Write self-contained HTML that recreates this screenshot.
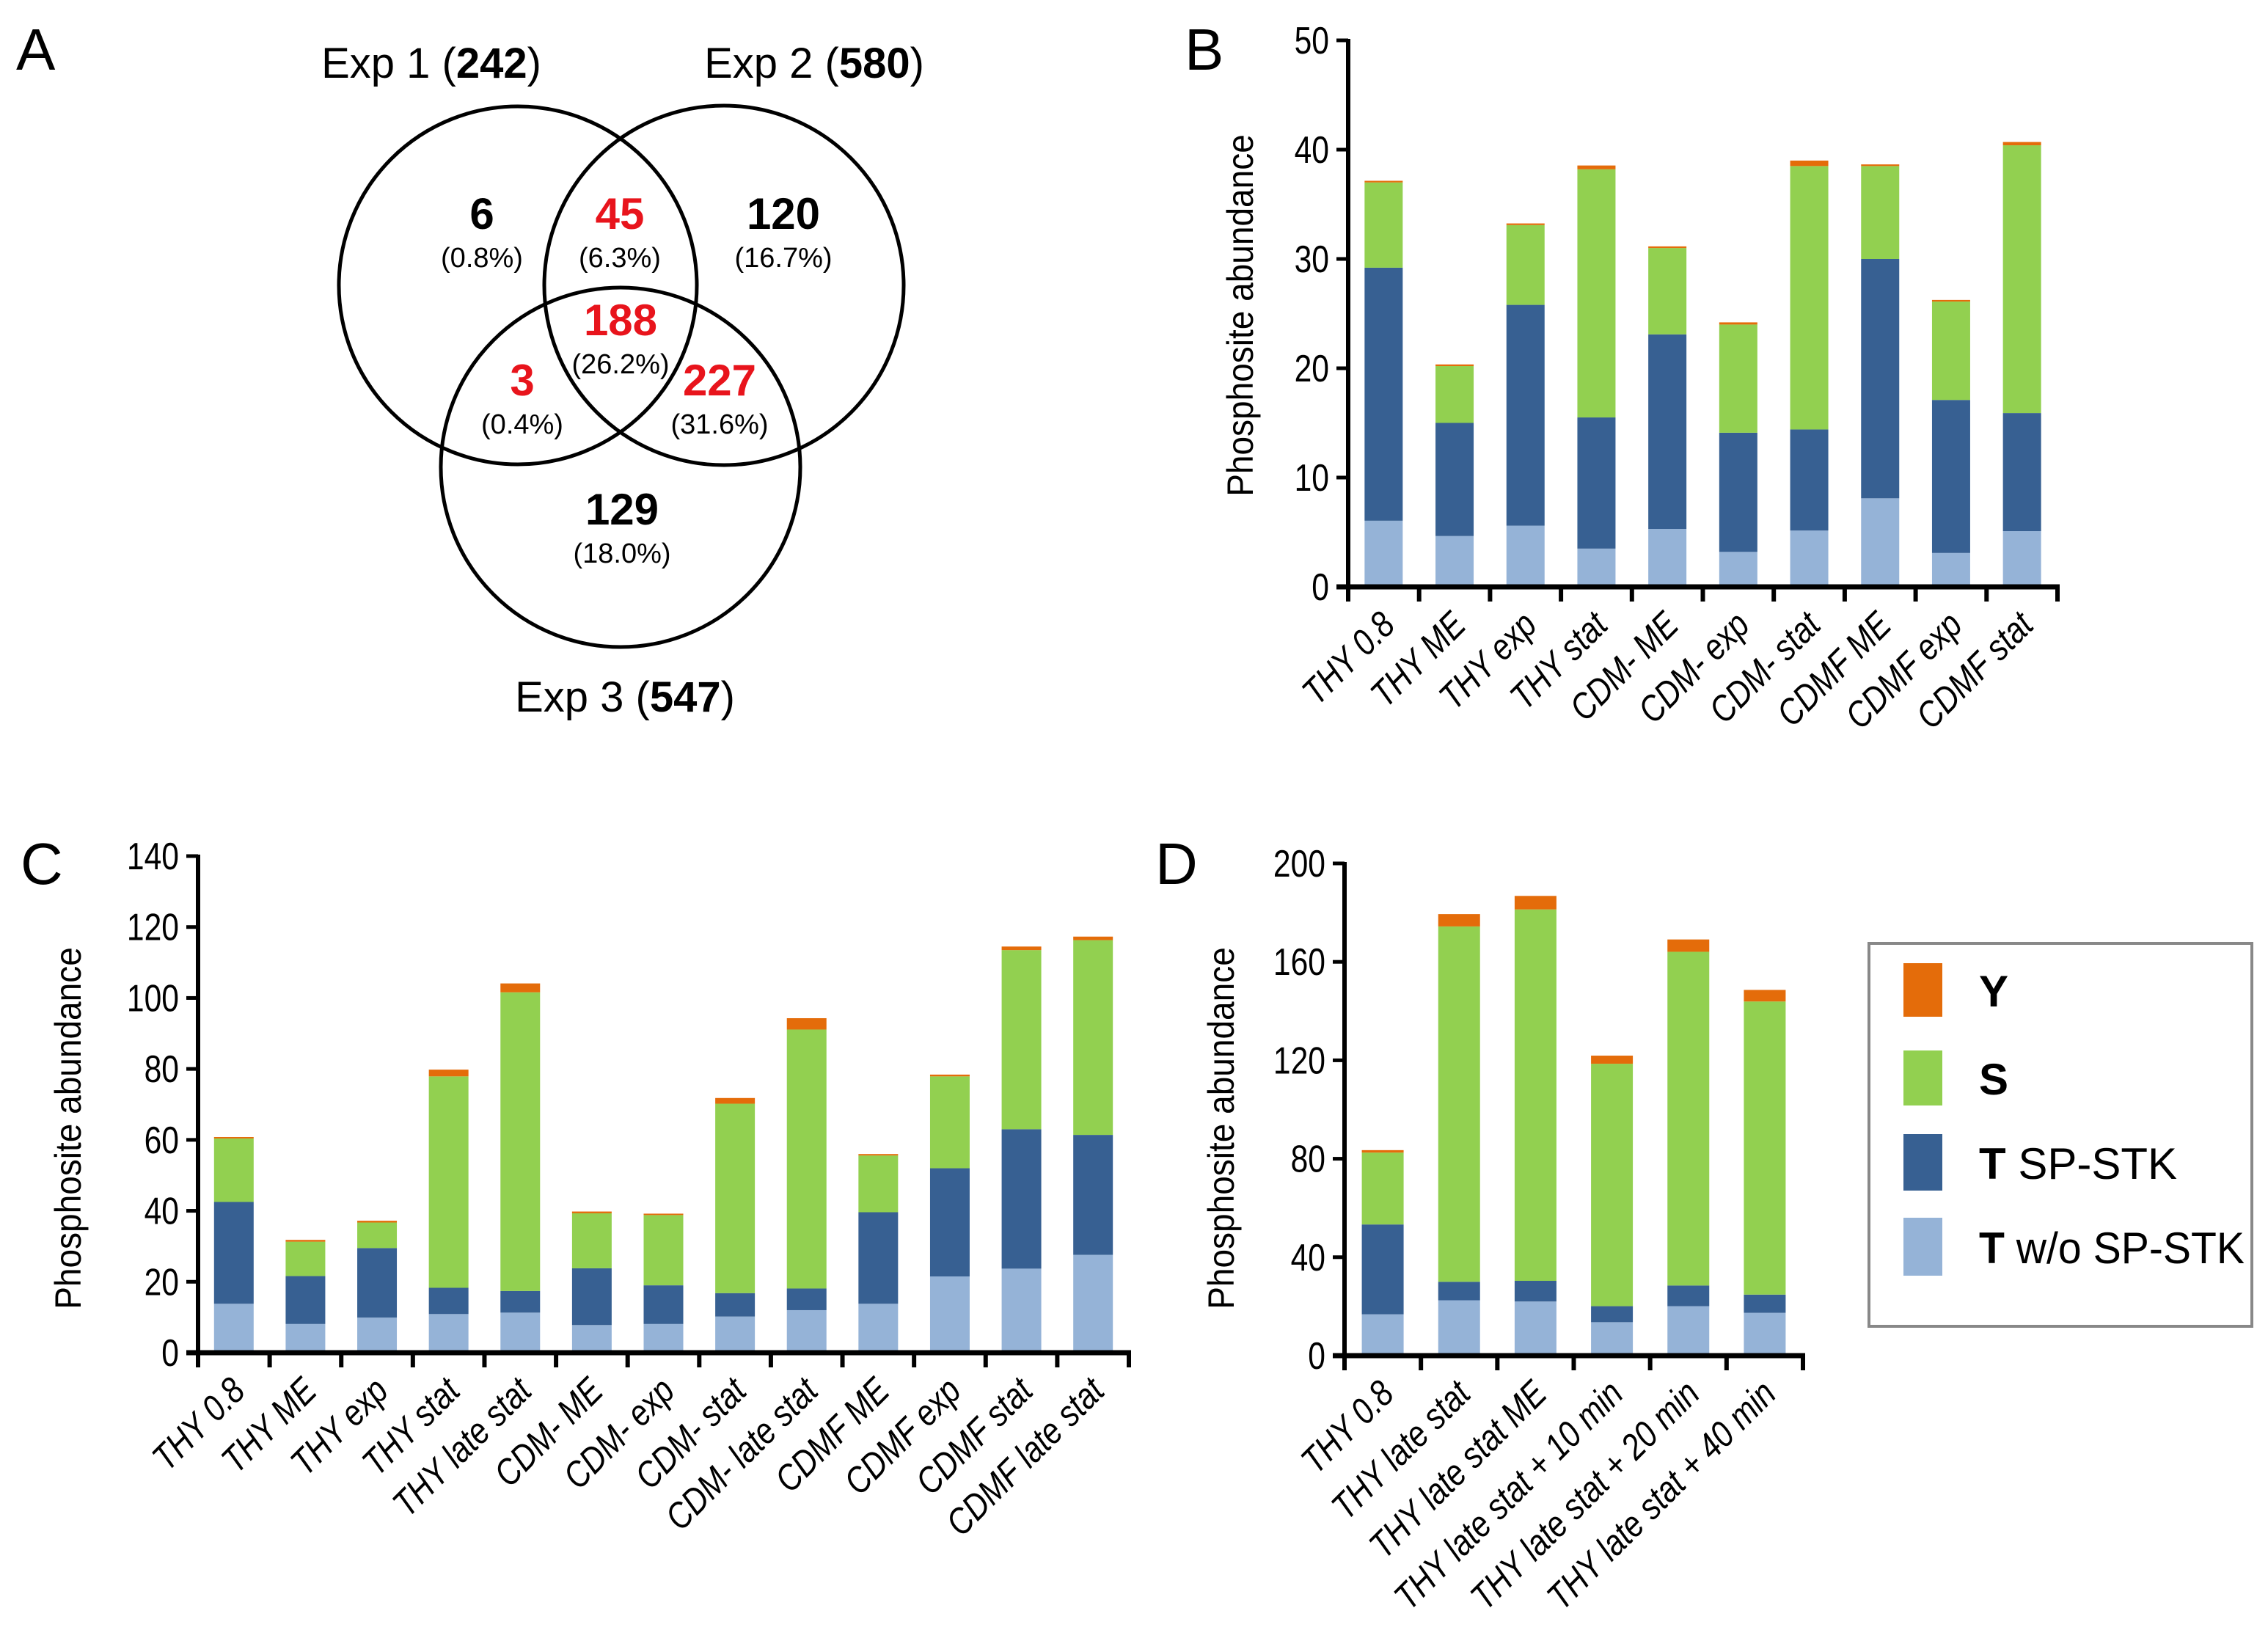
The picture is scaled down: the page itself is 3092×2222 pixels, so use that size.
<!DOCTYPE html>
<html><head><meta charset="utf-8">
<style>
html,body{margin:0;padding:0;background:#fff;}
svg{display:block;font-family:"Liberation Sans Narrow","Liberation Sans",sans-serif;}
</style></head>
<body>
<svg id="fig" width="3092" height="2222" viewBox="0 0 3092 2222" xmlns="http://www.w3.org/2000/svg">
<rect width="3092" height="2222" fill="#fff"/>
<g font-size="80" font-family="Liberation Sans, sans-serif">
<text x="22" y="95">A</text>
<text x="1615" y="95">B</text>
<text x="28" y="1205">C</text>
<text x="1575" y="1205">D</text>
</g>
<g id="venn">
<circle cx="706" cy="389" r="244" fill="none" stroke="#000" stroke-width="5"/>
<circle cx="987" cy="389" r="245" fill="none" stroke="#000" stroke-width="5"/>
<circle cx="846" cy="637" r="245" fill="none" stroke="#000" stroke-width="5"/>
<g font-size="58" text-anchor="middle">
<text x="588" y="106">Exp 1 (<tspan font-weight="bold">242</tspan>)</text>
<text x="1110" y="106">Exp 2 (<tspan font-weight="bold">580</tspan>)</text>
<text x="852" y="970">Exp 3 (<tspan font-weight="bold">547</tspan>)</text>
</g>
<g font-size="60" font-weight="bold" text-anchor="middle">
<text x="657" y="312">6</text>
<text x="845" y="312" fill="#e8141c">45</text>
<text x="1068" y="312">120</text>
<text x="846" y="457" fill="#e8141c">188</text>
<text x="712" y="539" fill="#e8141c">3</text>
<text x="981" y="539" fill="#e8141c">227</text>
<text x="848" y="715">129</text>
</g>
<g font-size="38" text-anchor="middle">
<text x="657" y="364">(0.8%)</text>
<text x="845" y="364">(6.3%)</text>
<text x="1068" y="364">(16.7%)</text>
<text x="846" y="509">(26.2%)</text>
<text x="712" y="591">(0.4%)</text>
<text x="981" y="591">(31.6%)</text>
<text x="848" y="767">(18.0%)</text>
</g>
</g>
<g id="legend">
<rect x="2548" y="1286" width="522" height="522" fill="#fff" stroke="#888" stroke-width="4"/>
<rect x="2595" y="1313" width="53" height="73" fill="#E46C0A"/>
<rect x="2595" y="1432" width="53" height="75" fill="#92D050"/>
<rect x="2595" y="1546" width="53" height="77" fill="#376092"/>
<rect x="2595" y="1660" width="53" height="79" fill="#95B3D7"/>
<g font-size="60">
<text x="2698" y="1372" font-weight="bold">Y</text>
<text x="2698" y="1492" font-weight="bold">S</text>
<text x="2698" y="1607"><tspan font-weight="bold">T</tspan> SP-STK</text>
<text x="2698" y="1722" textLength="362" lengthAdjust="spacingAndGlyphs"><tspan font-weight="bold">T</tspan> w/o SP-STK</text>
</g>
</g>
</svg>
<script>
// Panel B data (stack segments)
const catsB = ["THY 0.8","THY ME","THY exp","THY stat","CDM- ME","CDM- exp","CDM- stat","CDMF ME","CDMF exp","CDMF stat"];
const tLightB = [6.05,4.65,5.6,3.5,5.3,3.2,5.15,8.1,3.1,5.1];
const tDarkB  = [23.15,10.35,20.2,12.0,17.8,10.9,9.25,21.9,14.0,10.8];
const sB      = [7.8,5.2,7.3,22.7,7.9,9.9,24.1,8.5,9.0,24.5];
const yB      = [0.15,0.15,0.15,0.35,0.15,0.2,0.5,0.15,0.15,0.3];
const ticksB  = [0,10,20,30,40,50];
// Panel C data
const catsC = ["THY 0.8","THY ME","THY exp","THY stat","THY late stat","CDM- ME","CDM- exp","CDM- stat","CDM- late stat","CDMF ME","CDMF exp","CDMF stat","CDMF late stat"];
const tLightC = [13.8,8.1,9.9,10.9,11.3,7.8,8.1,10.2,12.0,13.8,21.5,23.7,27.6];
const tDarkC  = [28.7,13.5,19.6,7.4,6.1,16.0,10.9,6.6,6.1,25.8,30.5,39.3,33.8];
const sC      = [17.9,9.7,7.2,59.6,84.2,15.5,19.8,53.4,73.0,16.0,25.9,50.5,54.9];
const yC      = [0.4,0.5,0.5,1.9,2.5,0.5,0.4,1.6,3.2,0.4,0.5,1.0,1.0];
const ticksC  = [0,20,40,60,80,100,120,140];
// Panel D data
const catsD = ["THY 0.8","THY late stat","THY late stat ME","THY late stat + 10 min","THY late stat + 20 min","THY late stat + 40 min"];
const tLightD = [16.8,22.5,22.0,13.6,20.1,17.4];
const tDarkD  = [36.5,7.5,8.4,6.5,8.4,7.4];
const sD      = [29.2,144.4,150.9,98.5,135.6,119.1];
const yD      = [1.0,5.0,5.5,3.3,5.0,4.7];
const ticksD  = [0,40,80,120,160,200];

const NS="http://www.w3.org/2000/svg";
const svg=document.getElementById('fig');
const COLORS=["#95B3D7","#376092","#92D050","#E46C0A"];
const SEGN=["t-wo-sp-stk","t-sp-stk","s","y"];
function mk(tag,attrs,parent){const e=document.createElementNS(NS,tag);for(const k in attrs)e.setAttribute(k,attrs[k]);parent.appendChild(e);return e;}
function condense(t,f){const L=t.getComputedTextLength();if(L>0){t.setAttribute('textLength',(L*f).toFixed(1));t.setAttribute('lengthAdjust','spacingAndGlyphs');}}

function drawChart(id,cfg){
  const g=mk('g',{},svg);
  
  
  const n=cfg.cats.length;
  const step=(cfg.x1-cfg.x0)/n;
  const yS=v=>cfg.y0-(v-cfg.min)/(cfg.max-cfg.min)*(cfg.y0-cfg.yTop);
  const xC=i=>cfg.x0+step*(i+0.5);
  const series=[cfg.tl,cfg.td,cfg.s,cfg.y];
  for(let i=0;i<n;i++){
    let acc=0;
    for(let k=0;k<4;k++){
      const v=series[k][i];
      const yTop=yS(acc+v),yBot=yS(acc);
      const r=mk('rect',{x:xC(i)-cfg.bw/2,y:yTop,width:cfg.bw,height:Math.max(0,yBot-yTop),fill:COLORS[k]},g);
      
      
      acc+=v;
    }
  }
  const ya=mk('line',{x1:cfg.x0,y1:cfg.y0+3,x2:cfg.x0,y2:yS(cfg.max)-2,stroke:'#000','stroke-width':6},g);
  
  
  const xa=mk('line',{x1:cfg.x0-16,y1:cfg.y0,x2:cfg.x1+3,y2:cfg.y0,stroke:'#000','stroke-width':7},g);
  
  
  cfg.ticks.forEach(t=>{
    const yy=yS(t);
    const tl=mk('line',{x1:cfg.x0-16,y1:yy,x2:cfg.x0,y2:yy,stroke:'#000','stroke-width':5},g);
    
    
    const tx=mk('text',{x:cfg.x0-26,y:yy+18,'text-anchor':'end','font-size':52},g);
    tx.textContent=t;
    
    
    condense(tx,0.82);
  });
  for(let i=0;i<=n;i++){
    const xx=cfg.x0+step*i;
    const tk=mk('line',{x1:xx,y1:cfg.y0,x2:xx,y2:cfg.y0+20,stroke:'#000','stroke-width':6},g);
    
    
  }
  cfg.cats.forEach((c,i)=>{
    const lx=xC(i)+18, ly=cfg.y0+55;
    const t=mk('text',{x:lx,y:ly,'text-anchor':'end','font-size':50,'font-style':'italic',transform:`rotate(-45 ${lx} ${ly})`},g);
    t.textContent=c;
    
    
    condense(t,0.84);
  });
  const tt=mk('text',{x:cfg.titleX,y:cfg.titleY,'text-anchor':'middle','font-size':50,transform:`rotate(-90 ${cfg.titleX} ${cfg.titleY})`,'font-family':'Liberation Sans, sans-serif'},g);
  tt.textContent='Phosphosite  abundance';
  
  
  condense(tt,0.92);
}
drawChart('chart-b',{cats:catsB,tl:tLightB,td:tDarkB,s:sB,y:yB,ticks:ticksB,min:0,max:50,x0:1838,x1:2805,y0:800,yTop:55,bw:52,titleX:1708,titleY:430});
drawChart('chart-c',{cats:catsC,tl:tLightC,td:tDarkC,s:sC,y:yC,ticks:ticksC,min:0,max:140,x0:270,x1:1539,y0:1844,yTop:1167,bw:54,titleX:110,titleY:1538});
drawChart('chart-d',{cats:catsD,tl:tLightD,td:tDarkD,s:sD,y:yD,ticks:ticksD,min:0,max:200,x0:1833,x1:2458,y0:1848,yTop:1177,bw:57,titleX:1682,titleY:1538});
</script>
</body></html>
